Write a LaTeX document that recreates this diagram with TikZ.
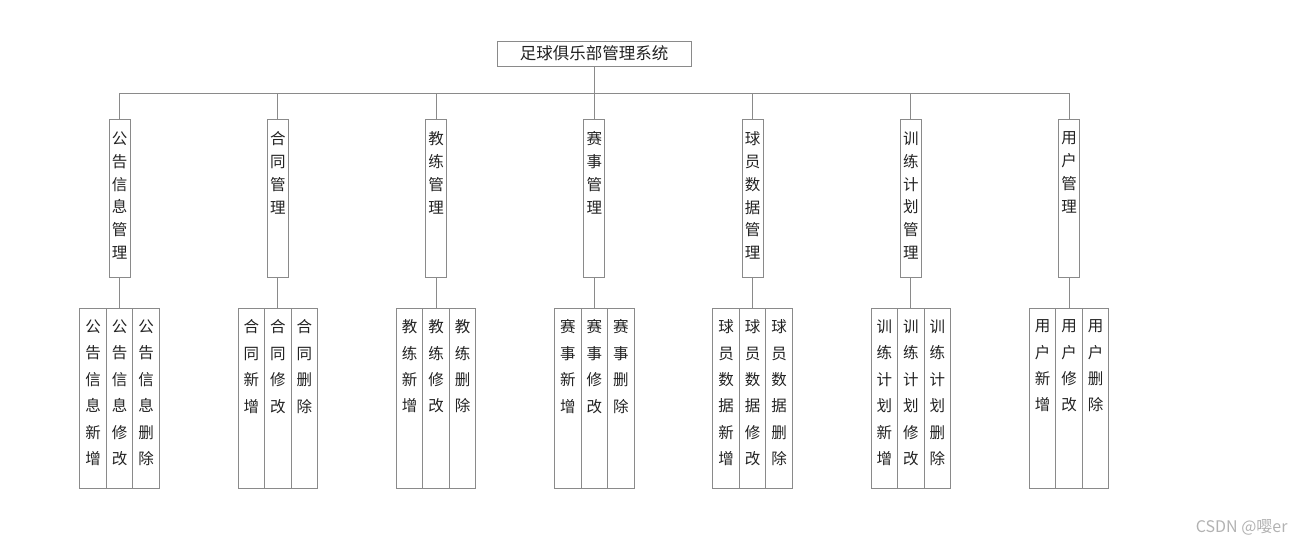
\documentclass[tikz,border=0pt]{standalone}
\usepackage{fontspec}
\newfontfamily\cjk{Noto Sans CJK SC}
\definecolor{boxline}{HTML}{8A8A8A}
\definecolor{ink}{HTML}{222222}
\tikzset{
  link/.style={draw=boxline, line width=0.9pt},
  rootbox/.style={draw=boxline, line width=0.9pt, minimum width=194pt, minimum height=25pt, inner sep=0pt,
    font=\cjk\fontsize{16.5}{18}\selectfont, text=ink},
  modbox/.style={draw=boxline, line width=0.9pt, minimum width=21pt, minimum height=158pt, inner sep=0pt},
  leafbox/.style={draw=boxline, line width=0.9pt, minimum width=26.5pt, minimum height=180pt, inner sep=0pt},
  modtext/.style={anchor=north, inner sep=0pt, align=center, text=ink, font=\cjk\fontsize{15.5}{22.8}\selectfont},
  leaftext/.style={anchor=north, inner sep=0pt, align=center, text=ink, font=\cjk\fontsize{15.5}{26.4}\selectfont}
}
\begin{document}
\begin{tikzpicture}[x=1pt, y=-1pt]
\useasboundingbox (0,0) rectangle (1297,549);
\node[rootbox] (root) at (594,53.5) {足球俱乐部管理系统};
\coordinate (bus) at (594,93);
\draw[link] (root) -- (bus);
\foreach \k/\pre in {0/公\\告\\信\\息, 1/合\\同, 2/教\\练, 3/赛\\事, 4/球\\员\\数\\据, 5/训\\练\\计\\划, 6/用\\户}{
  \pgfmathsetmacro\x{119.5+158.25*\k}
  \node[modbox] (m\k) at (\x,198) {};
  \node[modtext] at ([yshift=-13pt]m\k.north) {\pre\\管\\理};
  \foreach \j/\act in {1/新\\增, 2/修\\改, 3/删\\除}{
    \node[leafbox] (l\k-\j) at (\x+26.5*\j-53,398) {};
    \node[leaftext] at ([yshift=-12pt]l\k-\j.north) {\pre\\\act};
  }
  \draw[link] (m\k.north |- bus) -- (m\k.north);
  \draw[link] (m\k.south) -- (l\k-2.north);
}
\draw[link] (m0.north |- bus) -- (m6.north |- bus);
\node[anchor=east, text=black!30, font=\cjk\fontsize{16}{18}\selectfont] (mark) at (1291,527) {CSDN @嘤er};
\end{tikzpicture}
\end{document}
